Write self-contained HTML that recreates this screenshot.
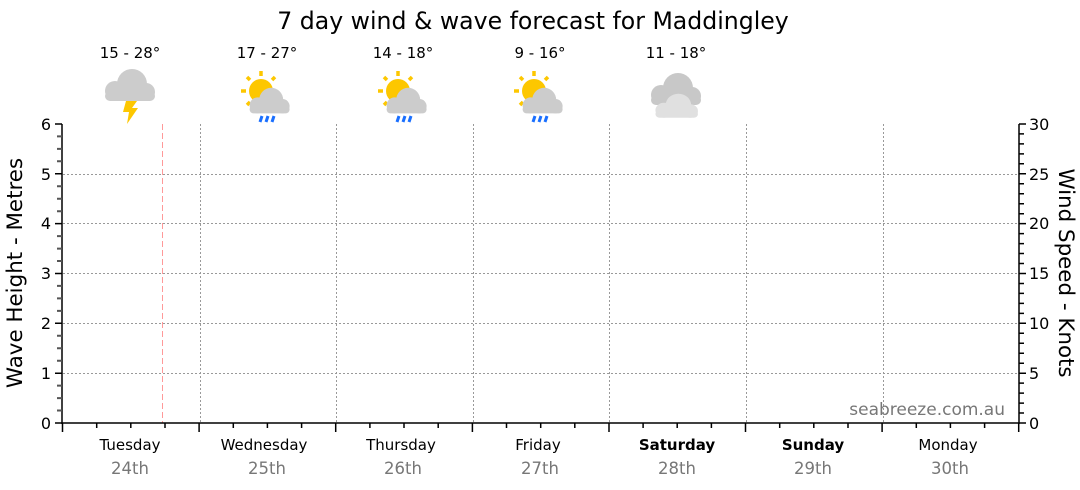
<!DOCTYPE html>
<html><head><style>body{margin:0;background:#fff}svg{display:block;font-family:"DejaVu Sans","Liberation Sans",sans-serif}</style></head><body>
<svg width="1080" height="490" xmlns="http://www.w3.org/2000/svg">
<text x="533" y="29" font-size="23.6" text-anchor="middle" fill="#000">7 day wind &amp; wave forecast for Maddingley</text>
<g font-size="15" text-anchor="middle" fill="#000">
<text x="130" y="58">15 - 28°</text><text x="267" y="58">17 - 27°</text><text x="403" y="58">14 - 18°</text><text x="540" y="58">9 - 16°</text><text x="676" y="58">11 - 18°</text>
</g>
<defs>
<g id="cl"><circle cx="-13" cy="3" r="10"/><circle cx="4" cy="-4" r="15"/><circle cx="18" cy="4" r="9"/><rect x="-23" y="3" width="50" height="10" rx="5"/></g>
<g id="sun"><circle cx="0" cy="0" r="12" fill="#fdc700"/><g stroke="#fdc700" stroke-width="3.5"><line x1="0" y1="-15" x2="0" y2="-20"/><line x1="-11" y1="-11" x2="-14" y2="-14"/><line x1="11" y1="-11" x2="14" y2="-14"/><line x1="-15" y1="0" x2="-20" y2="0"/><line x1="-11" y1="11" x2="-14" y2="14"/></g></g>
</defs>
<g fill="#cccccc"><use href="#cl" x="128" y="88"/></g>
<polygon points="126,101 137,101 132,108 138,108 127,124 129,112 123,112" fill="#fdc700"/>
<g><use href="#sun" x="261" y="91"/><g fill="#cccccc"><use href="#cl" x="0" y="0" transform="translate(268,103) scale(0.8)"/></g><g stroke="#1a6fff" stroke-width="3"><line x1="262" y1="116" x2="260" y2="122"/><line x1="268" y1="116" x2="266" y2="122"/><line x1="274" y1="116" x2="272" y2="122"/></g></g>
<g><use href="#sun" x="398" y="91"/><g fill="#cccccc"><use href="#cl" x="0" y="0" transform="translate(405,103) scale(0.8)"/></g><g stroke="#1a6fff" stroke-width="3"><line x1="399" y1="116" x2="397" y2="122"/><line x1="405" y1="116" x2="403" y2="122"/><line x1="411" y1="116" x2="409" y2="122"/></g></g>
<g><use href="#sun" x="534" y="91"/><g fill="#cccccc"><use href="#cl" x="0" y="0" transform="translate(541,103) scale(0.8)"/></g><g stroke="#1a6fff" stroke-width="3"><line x1="535" y1="116" x2="533" y2="122"/><line x1="541" y1="116" x2="539" y2="122"/><line x1="547" y1="116" x2="545" y2="122"/></g></g>
<g fill="#c8c8c8"><use href="#cl" x="674" y="92"/></g><g fill="#e0e0e0"><use href="#cl" x="0" y="0" transform="translate(675,108) scale(0.85,0.75)"/></g>
<g stroke="#999" stroke-width="1" stroke-dasharray="2,2">
<line x1="63" y1="373.5" x2="1019" y2="373.5"/><line x1="63" y1="323.5" x2="1019" y2="323.5"/><line x1="63" y1="273.5" x2="1019" y2="273.5"/><line x1="63" y1="223.5" x2="1019" y2="223.5"/><line x1="63" y1="174.5" x2="1019" y2="174.5"/>
<line x1="200.5" y1="124" x2="200.5" y2="423"/><line x1="336.5" y1="124" x2="336.5" y2="423"/><line x1="473.5" y1="124" x2="473.5" y2="423"/><line x1="609.5" y1="124" x2="609.5" y2="423"/><line x1="746.5" y1="124" x2="746.5" y2="423"/><line x1="883.5" y1="124" x2="883.5" y2="423"/>
</g>
<line x1="162.5" y1="124" x2="162.5" y2="423" stroke="#ff9999" stroke-dasharray="6,3"/>
<g stroke="#000" stroke-width="1.5"><line x1="62" y1="124" x2="62" y2="424"/><line x1="1019" y1="124" x2="1019" y2="424"/><line x1="62" y1="423" x2="1019" y2="423"/></g>
<path stroke="#555" stroke-width="2" d="M57 410.5H62M57 398.1H62M57 385.6H62M57 360.7H62M57 348.2H62M57 335.8H62M57 310.9H62M57 298.4H62M57 285.9H62M57 261H62M57 248.6H62M57 236.1H62M57 211.2H62M57 198.7H62M57 186.3H62M57 161.3H62M57 148.9H62M57 136.4H62"/>
<path stroke="#000" stroke-width="1.5" d="M55 423H62M55 373.2H62M55 323.3H62M55 273.5H62M55 223.6H62M55 173.8H62M55 124H62"/>
<path stroke="#000" stroke-width="1.5" d="M1019 413H1024M1019 403.1H1024M1019 393.1H1024M1019 383.1H1024M1019 363.2H1024M1019 353.2H1024M1019 343.3H1024M1019 333.3H1024M1019 313.4H1024M1019 303.4H1024M1019 293.4H1024M1019 283.5H1024M1019 263.5H1024M1019 253.5H1024M1019 243.6H1024M1019 233.6H1024M1019 213.7H1024M1019 203.7H1024M1019 193.7H1024M1019 183.8H1024M1019 163.8H1024M1019 153.9H1024M1019 143.9H1024M1019 133.9H1024M1019 423H1026M1019 373.2H1026M1019 323.3H1026M1019 273.5H1026M1019 223.6H1026M1019 173.8H1026M1019 124H1026"/>
<path stroke="#000" stroke-width="1.5" d="M62.5 423V432M199.1 423V432M335.7 423V432M472.4 423V432M609 423V432M745.5 423V432M882.1 423V432M1018.7 423V432M96.7 423V428M130.8 423V428M165 423V428M233.3 423V428M267.4 423V428M301.6 423V428M369.9 423V428M404 423V428M438.2 423V428M506.5 423V428M540.7 423V428M574.8 423V428M643.1 423V428M677.2 423V428M711.4 423V428M779.7 423V428M813.8 423V428M848 423V428M916.3 423V428M950.4 423V428M984.6 423V428"/>
<g font-size="16" text-anchor="end" fill="#000">
<text x="51" y="429">0</text><text x="51" y="379">1</text><text x="51" y="329">2</text><text x="51" y="279">3</text><text x="51" y="229">4</text><text x="51" y="180">5</text><text x="51" y="130">6</text>
</g>
<g font-size="16" text-anchor="start" fill="#000">
<text x="1029" y="429">0</text><text x="1029" y="379">5</text><text x="1029" y="329">10</text><text x="1029" y="279">15</text><text x="1029" y="229">20</text><text x="1029" y="180">25</text><text x="1029" y="130">30</text>
</g>
<text transform="translate(22,273) rotate(-90)" font-size="21.4" text-anchor="middle">Wave Height - Metres</text>
<text transform="translate(1059,273) rotate(90)" font-size="21.4" text-anchor="middle">Wind Speed - Knots</text>
<text x="1005" y="415" font-size="17" text-anchor="end" fill="#777">seabreeze.com.au</text>
<g font-size="15" text-anchor="middle" fill="#000">
<text x="130" y="450">Tuesday</text><text x="264" y="450">Wednesday</text><text x="401" y="450">Thursday</text><text x="538" y="450">Friday</text><text x="677" y="450" font-weight="bold">Saturday</text><text x="813" y="450" font-weight="bold">Sunday</text><text x="948" y="450">Monday</text>
</g>
<g font-size="16.5" text-anchor="middle" fill="#777">
<text x="130" y="474">24th</text><text x="267" y="474">25th</text><text x="403" y="474">26th</text><text x="540" y="474">27th</text><text x="677" y="474">28th</text><text x="813" y="474">29th</text><text x="950" y="474">30th</text>
</g>
</svg>
</body></html>
